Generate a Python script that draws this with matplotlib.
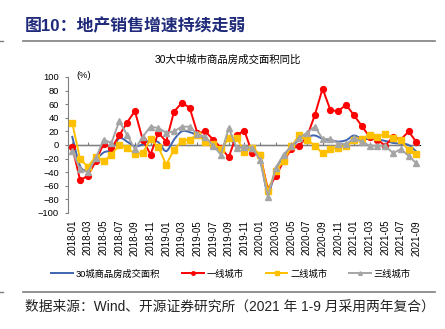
#!/usr/bin/env python3
"""
plot.py
30大中城市商品房成交面积同比 (line chart, 2018-01 to 2021-09)
"""
import numpy as np
import matplotlib.pyplot as plt
from matplotlib.lines import Line2D

# monthly categories 2018-01 .. 2021-09
months = [f'{y}-{m:02d}' for y in range(2018, 2022) for m in range(1, 13)][:45]

# year-on-year growth, %
total_30 = [12, -31, -36, -22, -11, -7, 10, 5, -2, 1, 7, 4, -9, 8, 20, 19,
            14, 8, 1, -6, 10, -3, -3, -6, -21, -70, -36, -17, -4, 8, 12, 14,
            9, 7, 5, 7, 14, 9, 9, 8, 6, 3, 2, 0, -10]
tier1 = [-3, -52, -45, -24, 2, -5, 14, 33, 50, 8, -14, 18, 5, 49, 62, 55,
         17, 20, 8, -4, -18, 15, 21, -12, -14, -65, -46, -24, -6, -1, 12, 44,
         83, 51, 50, 59, 44, 28, 12, 8, -1, 12, 8, 20, 4]
tier2 = [32, -21, -32, -17, -24, -14, 0, -4, -13, -12, 9, -3, -29, -7, 6, 8,
         15, 5, 2, -6, 10, 11, -10, -4, -14, -68, -38, -24, -2, 14, 8, -1,
         -12, -6, -4, -1, 7, 9, 15, 12, 16, 10, 7, -8, -13]
tier3 = [-9, -36, -40, -19, 8, 3, 35, 15, -6, 12, 27, 25, 18, 20, 27, 27,
         16, 12, -1, -14, 25, -4, -3, -4, -22, -76, -34, -14, -2, 10, 18, 27,
         9, 9, 2, 1, 10, 5, -1, -1, -1, -12, -6, -16, -27]

labels = ['30城商品房成交面积', '一线城市', '二线城市', '三线城市']


def smooth(x, y, n=12):
    """Catmull-Rom curve through the points (Excel style smoothed line)."""
    p = np.column_stack([x, y]).astype(float)
    p = np.vstack([p[0], p, p[-1]])
    t = np.linspace(0, 1, n, endpoint=False)[:, None]
    out = []
    for i in range(1, len(p) - 2):
        p0, p1, p2, p3 = p[i - 1], p[i], p[i + 1], p[i + 2]
        seg = 0.5 * ((2 * p1) + (-p0 + p2) * t
                     + (2 * p0 - 5 * p1 + 4 * p2 - p3) * t ** 2
                     + (-p0 + 3 * p1 - 3 * p2 + p3) * t ** 3)
        out.append(seg)
    out.append(p[-2][None, :])
    out = np.vstack(out)
    return out[:, 0], out[:, 1]


plt.rcParams['font.family'] = ['Liberation Sans', 'Noto Sans CJK SC']

W, H = 445, 329
fig = plt.figure(figsize=(W / 100, H / 100), dpi=100)
ax = fig.add_axes([68 / W, 1 - 213 / H, 352 / W, 136 / H])

x = np.arange(len(months))
grey = '#7f7f7f'

ax.axhline(0, color=grey, lw=1.0, zorder=1)
sx, sy = smooth(x, total_30)
ax.plot(sx, sy, color='#3F64B0', lw=1.4, label=labels[0], zorder=2)
ax.plot(x, tier1, color='#FF0000', lw=1.4, marker='o', ms=4.2,
        label=labels[1], zorder=3)
ax.plot(x, tier2, color='#FFC000', lw=1.4, marker='s', ms=4.2,
        label=labels[2], zorder=4)
ax.plot(x, tier3, color='#A5A5A5', lw=1.4, marker='^', ms=4.4,
        label=labels[3], zorder=5)

ax.set_xlim(-0.55, 44.45)
ax.set_ylim(-100, 100)
ax.set_yticks(np.arange(-100, 101, 20))
for s in ['top', 'right', 'bottom']:
    ax.spines[s].set_visible(False)
ax.spines['left'].set_color(grey)
ax.set_xticks(x[::2])
ax.set_xticklabels(months[::2], rotation=90, fontsize=7)
ax.tick_params(axis='x', length=0, pad=5)
ax.tick_params(axis='y', length=2.5, pad=4, labelsize=6.7, color=grey)

# small tick marks sitting on the zero line
sec = ax.secondary_xaxis(0.5)
sec.set_xticks(x[::2])
sec.set_xticklabels([])
sec.tick_params(length=2, color=grey)
sec.spines['bottom'].set_visible(False)

fig.text(76 / W, 1 - 75 / H, '(%)', fontsize=6.7, va='center')

# headings
fig.text(25 / W, 1 - 26 / H, '图10：地产销售增速持续走弱', fontsize=12.2,
         fontweight='bold', color='#1F2A7A', va='center')
fig.add_artist(Line2D([23 / W, 435 / W], [1 - 41 / H] * 2, color=grey, lw=1.2))
fig.add_artist(Line2D([0, 3 / W], [1 - 41 / H] * 2, color=grey, lw=1.0))
fig.text(227.5 / W, 1 - 60 / H, '30大中城市商品房成交面积同比', fontsize=7.5,
         ha='center', va='center')

fig.legend(loc='center', bbox_to_anchor=(231 / W, 1 - 274 / H), ncol=4,
           frameon=False, fontsize=6.7, handlelength=2.3, handletextpad=0.3,
           columnspacing=2.4, markerscale=0.6)

# source line
fig.add_artist(Line2D([23 / W, 435 / W], [1 - 292 / H] * 2, color=grey, lw=1.2))
fig.add_artist(Line2D([0, 3 / W], [1 - 292 / H] * 2, color=grey, lw=1.0))
fig.text(25 / W, 1 - 307 / H,
         '数据来源：Wind、开源证券研究所（2021 年 1-9 月采用两年复合）',
         fontsize=9.9, va='center', color='#222222')

fig.savefig('out.png', dpi=100)
